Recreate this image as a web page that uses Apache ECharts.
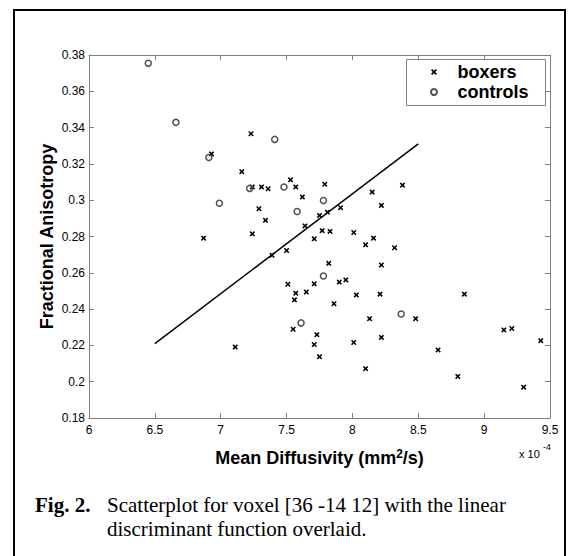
<!DOCTYPE html>
<html>
<head>
<meta charset="utf-8">
<script src="https://cdn.jsdelivr.net/npm/echarts@6/dist/echarts.min.js"></script>
<style>
html,body{margin:0;padding:0;background:#fff;}
#chart{width:570px;height:556px;}
</style>
</head>
<body>
<div id="chart"></div>
<script>
// ---- data ----
const boxersX = [6.93, 7.23, 7.16, 7.24, 7.31, 7.36, 7.53, 7.57, 7.62, 7.79, 7.29, 7.34, 6.87, 7.24, 7.39, 7.50, 7.64, 7.75, 7.81, 7.91, 7.77, 7.83, 7.71, 8.01, 8.15, 8.22, 8.38, 8.10, 8.16, 8.32, 8.22, 7.82, 7.51, 7.57, 7.56, 7.65, 7.71, 7.90, 7.95, 8.03, 7.86, 8.21, 8.13, 8.48, 8.85, 7.55, 7.73, 7.71, 7.75, 8.01, 8.22, 7.11, 8.10, 8.65, 8.80, 9.15, 9.21, 9.43, 9.30];
const boxersY = [0.3255, 0.3366, 0.3157, 0.3073, 0.3073, 0.3063, 0.3112, 0.3073, 0.3018, 0.3088, 0.2953, 0.2889, 0.2791, 0.2815, 0.2697, 0.2723, 0.2858, 0.2916, 0.2934, 0.2959, 0.2832, 0.2828, 0.2787, 0.2822, 0.3045, 0.2971, 0.3083, 0.2754, 0.2791, 0.2738, 0.2643, 0.2652, 0.2537, 0.2488, 0.2451, 0.2494, 0.2539, 0.2549, 0.2561, 0.2478, 0.2430, 0.2482, 0.2347, 0.2347, 0.2482, 0.2289, 0.2259, 0.2205, 0.2138, 0.2216, 0.2244, 0.2191, 0.2072, 0.2175, 0.2029, 0.2285, 0.2293, 0.2226, 0.1970];
const controlsX = [6.45, 6.66, 6.91, 7.41, 6.99, 7.22, 7.48, 7.78, 7.58, 7.78, 7.61, 8.37];
const controlsY = [0.3755, 0.3429, 0.3235, 0.3335, 0.2983, 0.3065, 0.3073, 0.2998, 0.2938, 0.2582, 0.2324, 0.2373];
const discX = [6.5, 8.5];
const discY = [0.221, 0.331];
const seriesNames = ['boxers', 'controls'];
const xTitle = 'Mean Diffusivity (mm{sup|2}/s)';
const yTitle = 'Fractional Anisotropy';
const captionBold = 'Fig. 2.';
const captionLine1 = 'Scatterplot for voxel [36 -14 12] with the linear';
const captionLine2 = 'discriminant function overlaid.';

const zip = (xs, ys) => xs.map((x, i) => [x, ys[i]]);
const SANS = 'Liberation Sans, Arial, Helvetica, sans-serif';
const SERIF = 'Liberation Serif, Times New Roman, serif';
const axisGrey = '#7f7f7f';
const xPath = 'path://M0,2 L2,0 L5,3 L8,0 L10,2 L7,5 L10,8 L8,10 L5,7 L2,10 L0,8 L3,5 Z';

const fmt = v => String(+(+v).toFixed(2));

const chart = echarts.init(document.getElementById('chart'), null, {renderer: 'svg'});
const baseAxis = {
  type: 'value',
  axisLine: {show: true, onZero: false, lineStyle: {color: axisGrey, width: 1}},
  axisTick: {show: true, inside: true, length: 5, lineStyle: {color: axisGrey, width: 1}},
  splitLine: {show: false}
};
chart.setOption({
  backgroundColor: '#fff',
  animation: false,
  grid: {left: 89, top: 55, right: 20, bottom: 138, containLabel: false, outerBoundsMode: 'none'},
  xAxis: [
    Object.assign({}, baseAxis, {
      min: 6, max: 9.5, interval: 0.5, position: 'bottom',
      axisLabel: {color: '#000', fontSize: 12, fontFamily: SANS, margin: 6, formatter: fmt},
      name: xTitle, nameLocation: 'middle', nameGap: 30, nameMoveOverlap: false,
      nameTextStyle: {color: '#000', fontSize: 18, fontWeight: 'bold', fontFamily: SANS, lineHeight: 20,
        rich: {sup: {fontSize: 12, fontWeight: 'bold', fontFamily: SANS, color: '#000', verticalAlign: 'top', lineHeight: 8}}}
    }),
    Object.assign({}, baseAxis, {
      min: 6, max: 9.5, interval: 0.5, position: 'top', axisLabel: {show: false}
    })
  ],
  yAxis: [
    Object.assign({}, baseAxis, {
      min: 0.18, max: 0.38, interval: 0.02, position: 'left',
      axisLabel: {color: '#000', fontSize: 12, fontFamily: SANS, margin: 4, formatter: fmt},
      name: yTitle, nameLocation: 'middle', nameGap: 33, nameMoveOverlap: false,
      nameTextStyle: {color: '#000', fontSize: 18, fontWeight: 'bold', fontFamily: SANS}
    }),
    Object.assign({}, baseAxis, {
      min: 0.18, max: 0.38, interval: 0.02, position: 'right', axisLabel: {show: false}
    })
  ],
  legend: {
    orient: 'vertical', left: 430, top: 62, itemWidth: 37, itemHeight: 6, itemGap: 0,
    padding: 0,
    data: seriesNames,
    textStyle: {color: '#000', fontSize: 18, fontWeight: 'bold', fontFamily: SANS, lineHeight: 20},
    selectedMode: false, z: 10
  },
  graphic: [
    {type: 'rect', z: 0, shape: {x: 14, y: 10, width: 551, height: 600}, style: {fill: 'none', stroke: '#000', lineWidth: 2}},
    {type: 'rect', z: 5, shape: {x: 406.5, y: 59.5, width: 139, height: 46}, style: {fill: '#fff', stroke: axisGrey, lineWidth: 1}},
    {type: 'text', z: 5, left: 519, top: 448, style: {text: 'x 10', fill: '#000', fontSize: 11, fontFamily: SANS}},
    {type: 'text', z: 5, left: 543, top: 442, style: {text: '-4', fill: '#000', fontSize: 9, fontFamily: SANS}},
    {type: 'text', z: 5, left: 35, top: 494, style: {text: captionBold, fill: '#000', fontSize: 21, fontWeight: 'bold', fontFamily: SERIF}},
    {type: 'text', z: 5, left: 107, top: 494, style: {text: captionLine1, fill: '#000', fontSize: 21, fontFamily: SERIF}},
    {type: 'text', z: 5, left: 107, top: 518, style: {text: captionLine2, fill: '#000', fontSize: 21, fontFamily: SERIF}}
  ],
  series: [
    {
      name: seriesNames[0], type: 'scatter', data: zip(boxersX, boxersY),
      symbol: xPath, symbolSize: 5.5,
      itemStyle: {color: '#000', opacity: 1}, z: 3
    },
    {
      name: seriesNames[1], type: 'scatter', data: zip(controlsX, controlsY),
      symbol: 'circle', symbolSize: 6,
      itemStyle: {color: 'rgba(0,0,0,0)', borderColor: '#505050', borderWidth: 1.5, opacity: 1}, z: 3
    },
    {
      name: 'discriminant', type: 'line', data: zip(discX, discY),
      symbol: 'none', lineStyle: {color: '#000', width: 1.5}, z: 2, silent: true
    }
  ]
});
</script>
</body>
</html>
